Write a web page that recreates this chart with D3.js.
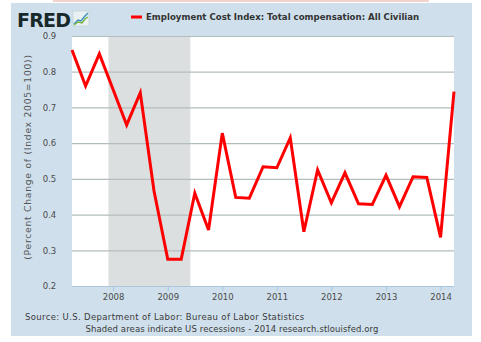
<!DOCTYPE html>
<html>
<head>
<meta charset="utf-8">
<script src="https://cdn.jsdelivr.net/npm/d3@7"></script>
<style>
  html, body { margin: 0; padding: 0; background: #fff; }
  svg { display: block; font-family: "DejaVu Sans", Verdana, sans-serif; }
</style>
</head>
<body>
<svg id="chart" width="481" height="342"></svg>
<script>
// Quarterly percent change, Employment Cost Index: Total compensation, All Civilian
const quarters = [
  "2007-04-01","2007-07-01","2007-10-01",
  "2008-01-01","2008-04-01","2008-07-01","2008-10-01",
  "2009-01-01","2009-04-01","2009-07-01","2009-10-01",
  "2010-01-01","2010-04-01","2010-07-01","2010-10-01",
  "2011-01-01","2011-04-01","2011-07-01","2011-10-01",
  "2012-01-01","2012-04-01","2012-07-01","2012-10-01",
  "2013-01-01","2013-04-01","2013-07-01","2013-10-01",
  "2014-01-01","2014-04-01"
];
const pctChange = [
  0.861, 0.760, 0.850,
  0.750, 0.651, 0.741, 0.466,
  0.275, 0.275, 0.460, 0.357,
  0.628, 0.448, 0.446, 0.534,
  0.531, 0.615, 0.352, 0.525,
  0.433, 0.517, 0.430, 0.428,
  0.510, 0.422, 0.506, 0.504,
  0.336, 0.744
];
const recessions = [["2007-12-01", "2009-06-01"]];
const yTicks = [0.2, 0.3, 0.4, 0.5, 0.6, 0.7, 0.8, 0.9];
const xTickYears = [2008, 2009, 2010, 2011, 2012, 2013, 2014];

const parse = d3.timeParse("%Y-%m-%d");
const data = quarters.map((q, i) => ({ date: parse(q), value: pctChange[i] }));

const svg = d3.select("#chart");
const plot = { left: 72, right: 454, top: 36, bottom: 286 };

// Background panel
svg.append("rect").attr("x", 53).attr("y", 0).attr("width", 376).attr("height", 2)
  .attr("fill", "#f2d2cc");
svg.append("rect").attr("x", 11).attr("y", 3).attr("width", 461).attr("height", 333)
  .attr("fill", "#cfe0ec");
svg.append("rect").attr("x", plot.left).attr("y", plot.top)
  .attr("width", plot.right - plot.left).attr("height", plot.bottom - plot.top)
  .attr("fill", "#ffffff");

const x = d3.scaleTime()
  .domain([parse("2007-04-01"), parse("2014-04-01")])
  .range([plot.left, plot.right]);
const y = d3.scaleLinear().domain([0.2, 0.9]).range([plot.bottom, plot.top]);

// Recession shading
svg.append("g").selectAll("rect").data(recessions).join("rect")
  .attr("x", d => x(parse(d[0])))
  .attr("y", plot.top)
  .attr("width", d => x(parse(d[1])) - x(parse(d[0])))
  .attr("height", plot.bottom - plot.top)
  .attr("fill", "#dcdfdf");

// Y axis with gridlines
const yAxis = svg.append("g")
  .attr("transform", `translate(${plot.left},0)`)
  .call(d3.axisLeft(y).tickValues(yTicks).tickFormat(d3.format(".1f"))
    .tickSize(-(plot.right - plot.left)).tickPadding(13));
yAxis.select(".domain").remove();
yAxis.selectAll(".tick line")
  .attr("stroke", d => d === 0.2 ? "none" : "#b3bdbd").attr("stroke-width", 1.2);
yAxis.selectAll(".tick text")
  .attr("fill", "#4a4a4a").attr("font-size", 8.5)
  .attr("font-family", "DejaVu Sans, sans-serif")
  .attr("text-anchor", "middle").attr("x", -22.5);

// X axis
const xAxis = svg.append("g")
  .attr("transform", `translate(0,${plot.bottom})`)
  .call(d3.axisBottom(x)
    .tickValues(xTickYears.map(yr => new Date(yr, 0, 1)))
    .tickFormat(d3.timeFormat("%Y")).tickSize(5).tickPadding(3));
xAxis.select(".domain").attr("stroke", "#a9c6dc").attr("stroke-width", 1.2)
  .attr("d", `M${plot.left},0.5H${plot.right}`);
xAxis.selectAll(".tick line").attr("stroke", "#a9c6dc");
xAxis.selectAll(".tick text")
  .attr("fill", "#4a4a4a").attr("font-size", 8.5)
  .attr("font-family", "DejaVu Sans, sans-serif");

// Series line
const line = d3.line().x(d => x(d.date)).y(d => y(d.value));
svg.append("path").datum(data)
  .attr("d", line)
  .attr("fill", "none")
  .attr("stroke", "#ff0000")
  .attr("stroke-width", 3)
  .attr("stroke-linejoin", "miter");

// Y axis title
svg.append("text")
  .attr("transform", "translate(31,157) rotate(-90)")
  .attr("text-anchor", "middle")
  .attr("font-size", 9.2)
  .attr("letter-spacing", 0.75)
  .attr("fill", "#555")
  .text("(Percent Change of (Index 2005=100))");

// Logo
svg.append("text")
  .attr("x", 17).attr("y", 27)
  .attr("font-size", 19).attr("font-weight", "bold")
  .attr("letter-spacing", -0.8)
  .attr("fill", "#17292b")
  .text("FRED");
const icon = svg.append("g").attr("transform", "translate(73,11)");
icon.append("rect").attr("width", 16).attr("height", 15).attr("fill", "#e8f0f2")
  .attr("stroke", "#b8c8cc").attr("stroke-width", 0.5);
icon.append("path").attr("d", "M1,13 L5,9 L8,10 L12,5 L15,2")
  .attr("fill", "none").attr("stroke", "#3a8fbf").attr("stroke-width", 1.4);
icon.append("path").attr("d", "M1,14 L5,11 L9,12 L12,8 L15,6")
  .attr("fill", "none").attr("stroke", "#7bb342").attr("stroke-width", 1.4);

// Legend
svg.append("line").attr("x1", 131).attr("x2", 142).attr("y1", 17).attr("y2", 17)
  .attr("stroke", "#ff0000").attr("stroke-width", 3);
svg.append("text")
  .attr("x", 146).attr("y", 20)
  .attr("font-size", 8.6).attr("font-weight", "bold")
  .attr("fill", "#333")
  .text("Employment Cost Index: Total compensation: All Civilian");

// Footer
svg.append("text")
  .attr("x", 25).attr("y", 320)
  .attr("font-size", 8.5).attr("letter-spacing", 0.35).attr("fill", "#3a3a3a")
  .text("Source: U.S. Department of Labor: Bureau of Labor Statistics");
svg.append("text")
  .attr("x", 232).attr("y", 332)
  .attr("text-anchor", "middle")
  .attr("font-size", 8.5).attr("letter-spacing", 0.1).attr("fill", "#3a3a3a")
  .text("Shaded areas indicate US recessions - 2014 research.stlouisfed.org");
</script>
</body>
</html>
